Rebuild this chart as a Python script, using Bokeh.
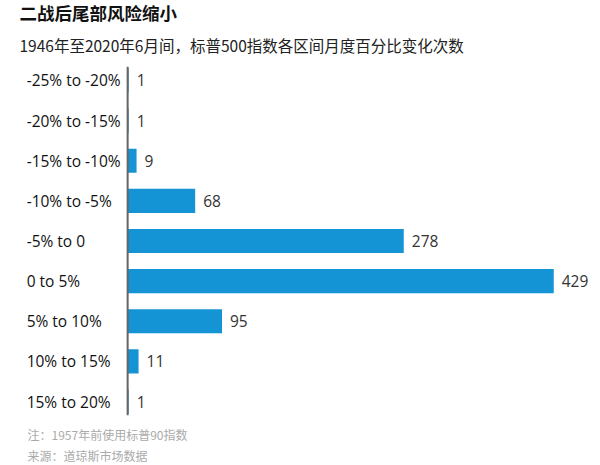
from bokeh.plotting import figure
from bokeh.models import ColumnDataSource, Range1d, FactorRange, Span, Title
from bokeh.core.properties import value
from bokeh.embed import file_html
from bokeh.resources import INLINE

categories = ["-25% to -20%", "-20% to -15%", "-15% to -10%", "-10% to -5%",
              "-5% to 0", "0 to 5%", "5% to 10%", "10% to 15%", "15% to 20%"]
counts = [1, 1, 9, 68, 278, 429, 95, 11, 1]
title_text = "二战后尾部风险缩小"
subtitle_text = "1946年至2020年6月间，标普500指数各区间月度百分比变化次数"
note_lines = ["注：1957年前使用标普90指数", "来源：道琼斯市场数据"]

src = ColumnDataSource(dict(cat=categories, n=counts,
                            lbl=[str(c) for c in counts],
                            zero=[0] * len(counts)))

yr = FactorRange(factors=categories[::-1], range_padding=-0.152,
                 range_padding_units="absolute")

p = figure(width=600, height=465, y_range=yr, x_range=Range1d(-128, 466),
           output_backend="svg", toolbar_location=None, title=None,
           min_border_left=0, min_border_right=10, min_border_top=65,
           min_border_bottom=50)
p.outline_line_color = None
p.xaxis.visible = False
p.yaxis.visible = False
p.xgrid.visible = False
p.ygrid.visible = False
p.background_fill_color = "white"
p.border_fill_color = "white"

p.hbar(y="cat", left=0, right="n", height=0.6, source=src,
       fill_color="#1594d5", line_color=None)
p.add_layout(Span(location=0, dimension="height", line_color="#666666",
                  line_width=2))

p.text(x="zero", y="cat", text="cat", source=src, x_offset=-101,
       text_align="left", text_baseline="middle",
       text_font=value("Open Sans"), text_font_size="15.5px",
       text_color="#111111")
p.text(x="n", y="cat", text="lbl", source=src, x_offset=8,
       text_align="left", text_baseline="middle",
       text_font=value("Open Sans"), text_font_size="15.5px",
       text_color="#333333")

sub = Title(text=subtitle_text, align="left", offset=19, standoff=21,
            text_font="Noto Sans CJK SC", text_font_size="15.5px",
            text_font_style="normal", text_color="#222222")
ttl = Title(text=title_text, align="left", offset=19, standoff=-6,
            text_font="Noto Sans CJK SC", text_font_size="17.5px",
            text_font_style="bold", text_color="#111111")
p.add_layout(sub, "above")
p.add_layout(ttl, "above")

n1 = Title(text=note_lines[0], align="left", offset=27, standoff=16,
           text_font="Noto Sans CJK SC", text_font_size="12px",
           text_font_style="normal", text_color="#aaaaaa")
n2 = Title(text=note_lines[1], align="left", offset=27, standoff=-12,
           text_font="Noto Sans CJK SC", text_font_size="12px",
           text_font_style="normal", text_color="#aaaaaa")
p.add_layout(n1, "below")
p.add_layout(n2, "below")

open("out.html", "w").write(file_html(p, INLINE))
